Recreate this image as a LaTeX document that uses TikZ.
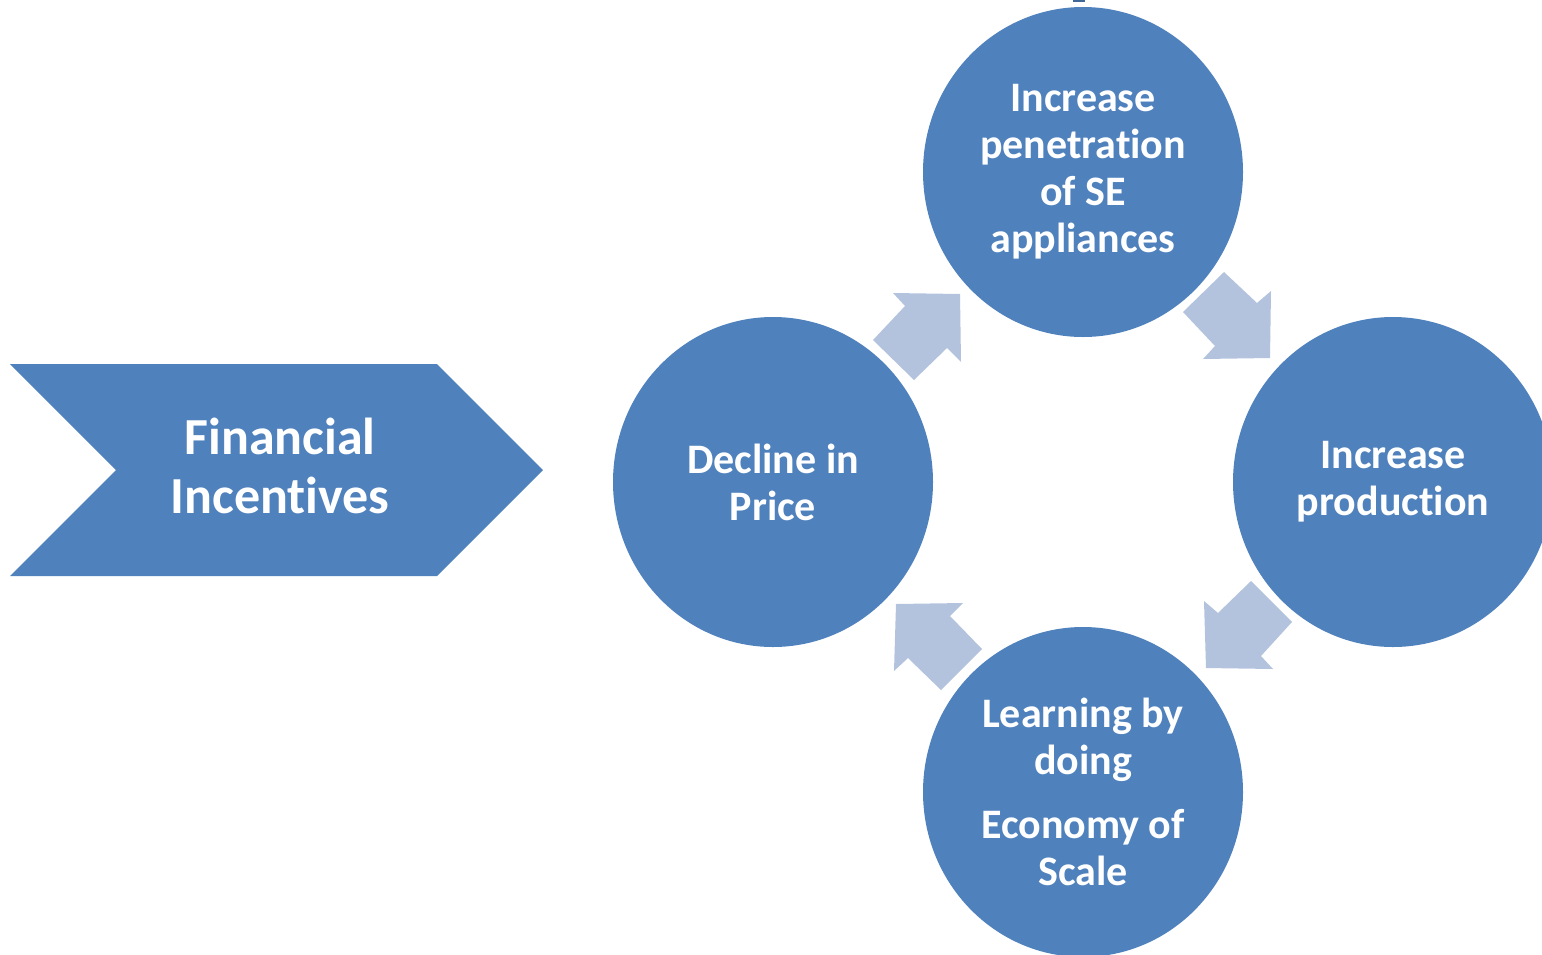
\documentclass[tikz,border=0pt]{standalone}
\usepackage{fontspec}
\setmainfont[Ligatures={NoCommon}]{Carlito}
\usetikzlibrary{shapes.geometric}
\definecolor{mainblue}{HTML}{4F81BD}
\definecolor{lightblue}{HTML}{B3C3DE}
\tikzset{
  bubble/.style={ellipse, fill=mainblue, minimum width=320pt, minimum height=330pt, inner sep=0pt,
    text=white, align=center, font=\bfseries\fontsize{42}{47}\selectfont},
  cyclearrow/.style={fill=lightblue, draw=none},
  chevlabel/.style={text=white, align=center, font=\bfseries\fontsize{52}{59}\selectfont}
}
\begin{document}
\begin{tikzpicture}[x=1pt,y=-1pt]
\useasboundingbox (0,0) rectangle (1542,954);
\clip (0,0) rectangle (1542,954);
% chevron
\fill[mainblue] (10,364) -- (437,364) -- (543,470) -- (437,576) -- (10,576) -- (116,470) -- cycle;
\node[chevlabel] (fin) at (280,466) {Financial\\Incentives};
% circles
\node[bubble] (top) at (1083,172) {Increase\\penetration\\of SE\\appliances};
\node[bubble] (left) at (773,482) {Decline in\\Price};
\node[bubble] (right) at (1393,482) {Increase\\production};
\node[bubble] (bottom) at (1083,792) {Learning by\\doing\\[17pt]Economy of\\Scale};
% cycle arrows
\fill[cyclearrow] (893,293) -- (960,294) -- (961,362) -- (947,348) -- (914,380) -- (873,340) -- (905,306) -- cycle;
\fill[cyclearrow] (1224,272) -- (1257,303) -- (1271,291) -- (1270,358) -- (1203,359) -- (1215,346) -- (1183,312) -- cycle;
\fill[cyclearrow] (1251,581) -- (1292,622) -- (1261,656) -- (1273,669) -- (1206,668) -- (1204,601) -- (1218,613) -- cycle;
\fill[cyclearrow] (982,649) -- (950,616) -- (963,603) -- (896,604) -- (894,671) -- (908,658) -- (941,690) -- cycle;
% small artifact at top edge
\fill[mainblue!80!black] (1073,0) rectangle (1085,2);
\end{tikzpicture}
\end{document}
